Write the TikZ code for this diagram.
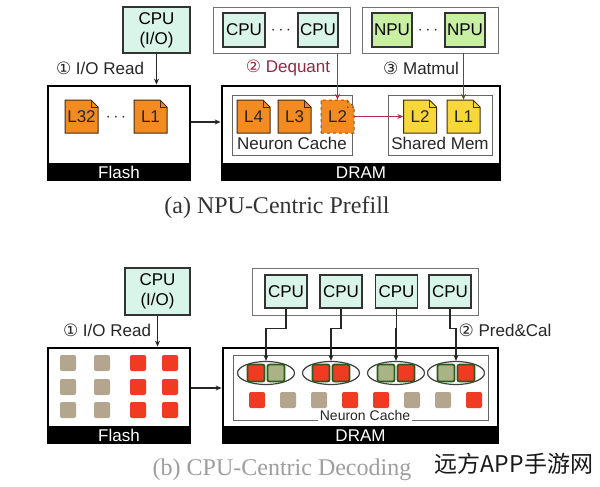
\documentclass[tikz,border=0pt]{standalone}
\usepackage{fontspec}
\setmainfont{Liberation Sans}
\newfontfamily\capfont{Liberation Serif}
\newfontfamily\circfont{DejaVu Sans}
\newfontfamily\cjkfont{Noto Sans CJK SC}
\usetikzlibrary{arrows.meta,positioning,shapes.geometric}

\definecolor{cpufill}{HTML}{D9F5EA}
\definecolor{npufill}{HTML}{C8EFA2}
\definecolor{orangedoc}{HTML}{F28B22}
\definecolor{yellowdoc}{HTML}{F7D73A}
\definecolor{redsq}{HTML}{F03B22}
\definecolor{tansq}{HTML}{B4A68E}
\definecolor{greentan}{HTML}{A9B385}
\definecolor{deqred}{HTML}{B0304C}
\definecolor{mmgreen}{HTML}{3E5E2C}
\definecolor{ringgreen}{HTML}{2F5A1E}

\newcommand{\txt}{\fontsize{17}{20}\selectfont}
% layer file with folded corner: name, position, label, style
\newcommand{\ldoc}[4]{%
  \draw[#4, shift={(#2)}] (-16.5,16.5) -- (16.5,16.5) -- (16.5,-9.5) -- (9.5,-16.5) -- (-16.5,-16.5) -- cycle;
  \draw[#4, fill=none, shift={(#2)}] (9.5,-16.5) -- (9.5,-9.5) -- (16.5,-9.5);
  \node[doc_text] (#1) at (#2) {#3};}

\begin{document}
\begin{tikzpicture}[x=1pt, y=-1pt,
		cpu_style/.style={draw=black!80,line width=1.3pt,fill=cpufill,inner sep=0pt,font=\txt},
		npu_style/.style={cpu_style,fill=npufill},
		grp_style/.style={draw=black!55,line width=0.8pt},
		mem_style/.style={draw=black,line width=2.8pt},
		band_style/.style={fill=black,text=white,font=\txt,minimum height=18,inner sep=0pt},
		box_style/.style={draw=black!60,line width=0.8pt},
		doc_style/.style={draw=brown!35!black,line width=1pt,fill=orangedoc},
		dash_style/.style={doc_style,draw=brown!70!black,dashed},
		ydoc_style/.style={doc_style,fill=yellowdoc},
		doc_text/.style={minimum size=33,inner sep=0pt,font=\txt,text=black!85},
		sq_style/.style={minimum size=16,inner sep=0pt,rounded corners=2pt},
		pair_style/.style={sq_style,draw=ringgreen,line width=1.8pt,minimum size=17},
		ring_style/.style={ellipse,draw=black!75,line width=1.2pt,minimum width=57,minimum height=23},
		arr_style/.style={-{Stealth[length=6pt,width=5pt]},line width=1.3pt,draw=black!85},
		lbl_style/.style={font=\txt,text=black!85}]

	\useasboundingbox[fill=white] (0,0) rectangle (600,487);

	% (a) prefill
	\node[cpu_style,minimum width=67,minimum height=46,align=center] (cpuio) at (156.5,30) {CPU\\(I/O)};
	\node[lbl_style] (ioread) at (100,68) {{\circfont ①} I/O Read};

	\node[mem_style,minimum width=142,minimum height=94] (flash) at (119,133) {};
	\node[band_style,minimum width=142,anchor=south] (flashband) at (flash.south) {Flash};
	\ldoc{l32}{81.5,116.5}{L32}{doc_style}
	\node[lbl_style] (fdots) at (116,118) {$\cdots$};
	\ldoc{l1}{150.5,116.5}{L1}{doc_style}

	\node[mem_style,minimum width=278,minimum height=94] (dram) at (361,133) {};
	\node[band_style,minimum width=278,anchor=south] (dramband) at (dram.south) {DRAM};

	\node[box_style,minimum width=120,minimum height=60] (cache) at (292,125) {};
	\node[lbl_style] (cachelbl) at (292,143) {Neuron Cache};
	\ldoc{l4}{253.5,116.5}{L4}{doc_style}
	\ldoc{l3}{294.5,116.5}{L3}{doc_style}
	\ldoc{l2d}{337.5,116.5}{L2}{dash_style}

	\node[box_style,minimum width=104,minimum height=60] (shmem) at (440,125) {};
	\node[lbl_style] (shmemlbl) at (440,143) {Shared Mem};
	\ldoc{l2y}{420,116.5}{L2}{ydoc_style}
	\ldoc{l1y}{463.5,116.5}{L1}{ydoc_style}

	\node[grp_style,minimum width=137,minimum height=46] (cpugrp) at (281.5,30) {};
	\node[cpu_style,minimum width=42,minimum height=34] (cpua) at (244,30) {CPU};
	\node[lbl_style] (cdots) at (281,31) {$\cdots$};
	\node[cpu_style,minimum width=40,minimum height=34] (cpub) at (318,30) {CPU};

	\node[grp_style,minimum width=136,minimum height=46] (npugrp) at (430,30) {};
	\node[npu_style,minimum width=40,minimum height=34] (npua) at (392,30) {NPU};
	\node[lbl_style] (ndots) at (428,31) {$\cdots$};
	\node[npu_style,minimum width=40,minimum height=34] (npub) at (465,30) {NPU};

	\node[lbl_style,text=deqred!85!black] (deq) at (288,68) {{\circfont ②} Dequant};
	\node[lbl_style] (mm) at (421,68) {{\circfont ③} Matmul};

	\draw[arr_style] (cpuio.south) -- (flash.north -| cpuio.south);
	\draw[arr_style] ([yshift=11pt]flash.east) -- ([yshift=11pt]dram.west);
	\draw[arr_style,draw=deqred] (cpugrp.south -| l2d.north) -- (l2d.north);
	\draw[arr_style,draw=deqred] (l2d.east) -- (l2y.west);
	\draw[arr_style,draw=mmgreen] (npugrp.south -| l1y.north) -- (l1y.north);

	\node[font=\capfont\fontsize{24}{28}\selectfont,text=black!80] (capa) at (277,208) {(a) NPU-Centric Prefill};

	% (b) decoding
	\node[cpu_style,minimum width=65,minimum height=47,align=center] (cpuio2) at (157.5,291.5) {CPU\\(I/O)};
	\node[lbl_style] (ioread2) at (107,330) {{\circfont ①} I/O Read};

	\node[mem_style,minimum width=142,minimum height=95] (flash2) at (119,395.5) {};
	\node[band_style,minimum width=142,anchor=south] (flashband2) at (flash2.south) {Flash};
	\foreach \y [count=\r] in {363,387,410}{
		\foreach \x/\c [count=\k] in {68/tansq,102/tansq,138/redsq,170/redsq}
			\node[sq_style,fill=\c] (fs\r\k) at (\x,\y) {};
	}

	\node[mem_style,minimum width=275,minimum height=95] (dram2) at (360.5,395.5) {};
	\node[band_style,minimum width=275,anchor=south] (dramband2) at (dram2.south) {DRAM};
	\node[box_style,minimum width=255,minimum height=65] (cache2) at (360.5,387.5) {};
	\node[fill=white,inner sep=2pt,font=\fontsize{14}{16}\selectfont,text=black!85] (cachelbl2) at (365,415) {Neuron Cache};

	\foreach \x/\ca/\cb [count=\k] in {266/redsq/greentan,331/redsq/redsq,396/greentan/redsq,456/greentan/redsq}{
		\node[ring_style] (ring\k) at (\x,373) {};
		\node[pair_style,fill=\ca] (pl\k) at (\x-10,373) {};
		\node[pair_style,fill=\cb] (pr\k) at (\x+10,373) {};
	}
	\foreach \c [count=\k] in {redsq,tansq,tansq,redsq,redsq,tansq,tansq,redsq}
		\node[sq_style,fill=\c] (cs\k) at (226+31*\k,400) {};

	\node[grp_style,minimum width=226,minimum height=47] (cpugrp2) at (365,291.5) {};
	\foreach \x [count=\k] in {286,341,396.5,450}
		\node[cpu_style,minimum width=42,minimum height=33] (cpu\k) at (\x,291.5) {CPU};

	\node[lbl_style] (pred) at (505,330) {{\circfont ②} Pred\&Cal};

	\draw[arr_style] (cpuio2.south) -- (flash2.north -| cpuio2.south);
	\draw[arr_style] ([yshift=7.5pt]flash2.east) -- ([yshift=7.5pt]dram2.west);
	\foreach \k in {1,...,4}
		\draw[arr_style] (cpu\k.south) -- ++(0,20) -| (ring\k.north);

	\node[font=\capfont\fontsize{24}{28}\selectfont,text=black!38] (capb) at (282,470) {(b) CPU-Centric Decoding};
	\node[font=\cjkfont\fontsize{23}{26}\selectfont,text=black!90] (mark) at (514,464) {远方APP手游网};

\end{tikzpicture}
\end{document}
